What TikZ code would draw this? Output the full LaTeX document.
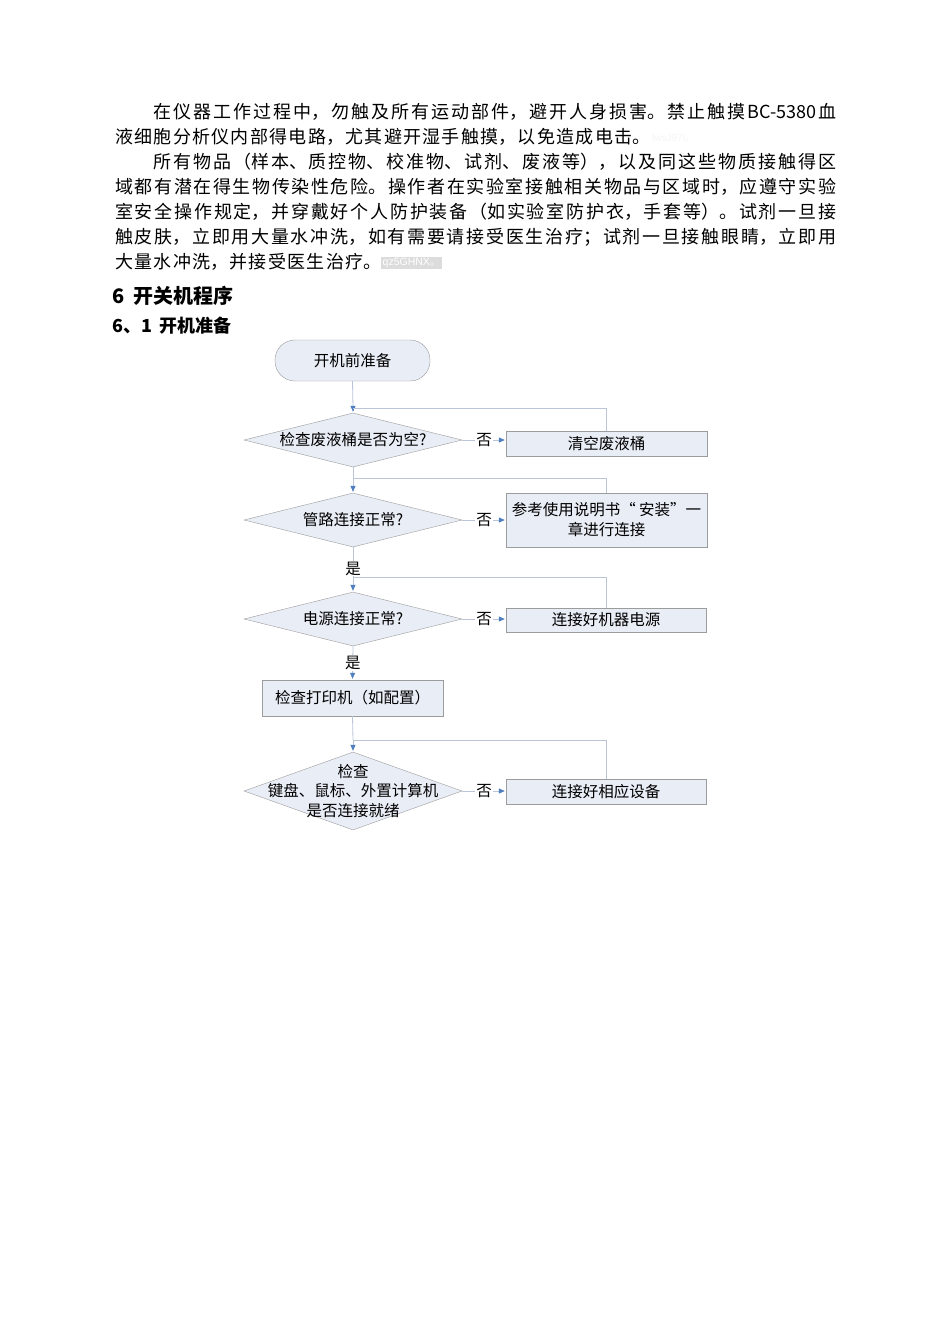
\documentclass[tikz,border=0pt]{standalone}
\usepackage{fontspec}
\setmainfont{Noto Sans CJK SC}
\newfontfamily\wmfont{Liberation Sans}
\usetikzlibrary{shapes.geometric,arrows.meta}
\definecolor{boxfill}{HTML}{E9EDF6}
\definecolor{boxdraw}{HTML}{9C9C9C}
\definecolor{connc}{HTML}{BAC6D8}
\definecolor{tipblue}{HTML}{4F7FC0}
\definecolor{wmgray}{HTML}{DCDCDC}
\XeTeXlinebreaklocale "zh"
\XeTeXlinebreakskip=0pt plus 1pt
\newcommand\jl[2]{\parbox[t]{#1}{\XeTeXlinebreakskip=0pt plus 40pt\parfillskip=0pt\parindent=0pt\relax #2}}
\newcommand\nl[1]{\parbox[t]{721pt}{\XeTeXlinebreakskip=1.3pt\parindent=0pt\relax #1}}
\begin{document}
\begin{tikzpicture}[x=1pt,y=-1pt,
  bodyline/.style={anchor=base west,inner sep=0pt,font=\fontsize{18}{20}\selectfont},
  startbox/.style={draw=boxdraw,fill=boxfill,rounded corners=20pt,minimum width=155pt,minimum height=41pt,inner sep=0pt,font=\fontsize{15.5}{17}\selectfont},
  pbox/.style={draw=boxdraw,fill=boxfill,inner sep=0pt,font=\fontsize{15.5}{17}\selectfont,align=center},
  dia/.style={draw=boxdraw,fill=boxfill,shape=diamond,inner sep=0pt,minimum width=218pt},
  ftext/.style={inner sep=0pt,font=\fontsize{15.5}{19.5}\selectfont,align=center},
  cline/.style={draw=connc,line width=0.8pt},
  arr/.style={-{Triangle[length=6pt,width=5pt,color=tipblue]},shorten >=1pt},
  lab/.style={fill=white,inner sep=1pt,text=black,font=\fontsize{15.5}{17}\selectfont}]
\useasboundingbox[fill=white] (0,0) rectangle (950,1344);

% body text
\node[bodyline] (l1) at (153,118) {\jl{683pt}{在仪器工作过程中，勿触及所有运动部件，避开人身损害。禁止触摸BC-5380血}};
\node[bodyline] (l2) at (115,143) {\nl{液细胞分析仪内部得电路，尤其避开湿手触摸，以免造成电击。}};
\node[anchor=base west,inner sep=0pt,text=black!4,font=\fontsize{10}{10}\selectfont] (wm1) at (652,141) {{\wmfont lwsJ97l}。};
\node[bodyline] (l3) at (153,168) {\jl{683pt}{所有物品（样本、质控物、校准物、试剂、废液等），以及同这些物质接触得区}};
\node[bodyline] (l4) at (115,193) {\jl{721pt}{域都有潜在得生物传染性危险。操作者在实验室接触相关物品与区域时，应遵守实验}};
\node[bodyline] (l5) at (115,218) {\jl{721pt}{室安全操作规定，并穿戴好个人防护装备（如实验室防护衣，手套等）。试剂一旦接}};
\node[bodyline] (l6) at (115,243) {\jl{721pt}{触皮肤，立即用大量水冲洗，如有需要请接受医生治疗；试剂一旦接触眼睛，立即用}};
\node[bodyline] (l7) at (115,268) {\nl{大量水冲洗，并接受医生治疗。}};
\node[anchor=west,fill=wmgray,inner sep=1.5pt,text=white,font=\fontsize{10.5}{10.5}\selectfont] (wm2) at (381,263) {{\wmfont qz5GHNX}。};

% headings
\node[anchor=base west,inner sep=0pt,font=\fontsize{20}{22}\selectfont\bfseries] (h1) at (112,303) {6\hspace{9pt}开关机程序};
\node[anchor=base west,inner sep=0pt,font=\fontsize{18}{20}\selectfont\bfseries] (h2) at (112,332) {6、1\hspace{7pt}开机准备};

% flowchart nodes
\node[startbox] (start) at (352.5,360.5) {开机前准备};
\node[dia,minimum height=54pt] (d1) at (353,440) {};
\node[ftext] (t1) at (d1) {检查废液桶是否为空?};
\node[pbox,minimum width=201pt,minimum height=25pt] (b1) at (606.5,443.5) {清空废液桶};

\node[dia,minimum height=54pt] (d2) at (353,520) {};
\node[ftext] (t2) at (d2) {管路连接正常?};
\node[pbox,minimum width=201pt,minimum height=54pt,font=\fontsize{15.5}{20}\selectfont] (b2) at (606.5,520) {参考使用说明书“ 安装”一\\章进行连接};

\node[dia,minimum height=54pt] (d3) at (353,619) {};
\node[ftext] (t3) at (d3) {电源连接正常?};
\node[pbox,minimum width=200pt,minimum height=24pt] (b3) at (606,620) {连接好机器电源};

\node[pbox,minimum width=181pt,minimum height=36pt] (b4) at (352.5,698) {检查打印机（如配置）};

\node[dia,minimum height=78pt] (d5) at (353,791) {};
\node[ftext] (t5) at (d5) {检查\\键盘、鼠标、外置计算机\\是否连接就绪};
\node[pbox,minimum width=200pt,minimum height=25pt] (b5) at (606,791.5) {连接好相应设备};

\coordinate (j1) at (353,408);
\coordinate (j2) at (353,478);
\coordinate (j3) at (353,577);
\coordinate (j4) at (353,740);

% connectors
\draw[cline] (start.south) -- (j1);
\draw[cline,arr] (j1) -- (d1.north);
\draw[cline] (b1.north) |- (j1);
\draw[cline,arr] (d1.east) -- node[lab]{否} (d1.east -| b1.west);

\draw[cline] (d1.south) -- (j2);
\draw[cline,arr] (j2) -- (d2.north);
\draw[cline] (b2.north) |- (j2);
\draw[cline,arr] (d2.east) -- node[lab]{否} (b2.west);

\draw[cline] (d2.south) -- node[lab,pos=0.72]{是} (j3);
\draw[cline,arr] (j3) -- (d3.north);
\draw[cline] (b3.north) |- (j3);
\draw[cline,arr] (d3.east) -- node[lab]{否} (d3.east -| b3.west);

\draw[cline,arr] (d3.south) -- node[lab]{是} (b4.north);
\draw[cline] (b4.south) -- (j4);
\draw[cline,arr] (j4) -- (d5.north);
\draw[cline] (b5.north) |- (j4);
\draw[cline,arr] (d5.east) -- node[lab]{否} (d5.east -| b5.west);
\end{tikzpicture}
\end{document}
